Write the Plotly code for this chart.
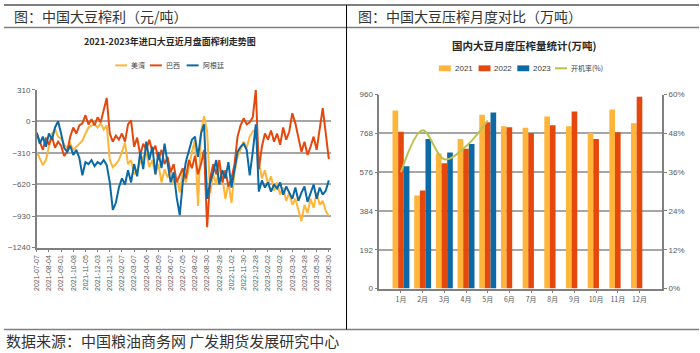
import plotly.graph_objects as go

# ---------------- Left chart data (元/吨) ----------------
tick_dates = ["2021-07-07", "2021-08-04", "2021-09-01", "2021-10-08", "2021-11-05",
              "2021-12-03", "2021-12-31", "2022-02-07", "2022-03-07", "2022-04-06",
              "2022-05-09", "2022-06-07", "2022-07-05", "2022-08-02", "2022-08-30",
              "2022-09-28", "2022-11-02", "2022-11-30", "2022-12-28", "2023-02-02",
              "2023-03-02", "2023-03-30", "2023-04-28", "2023-05-30", "2023-06-30"]

us_gulf = [-300, -360, -430, -380, -260, -120, -80, -150, -170, -230, -260, -220, -280, -250, -230, -190,
           -120, -60, -40, -30, -60, -20, -80, -40, -380, -450, -420, -380, -300, -210, -420, -380,
           -520, -480, -400, -350, -300, -450, -380, -520, -420, -600, -470, -550, -480, -620, -560, -700,
           -500, -600, -430, -300, -180, -830, -100, 50, -100, -700, -520, -620, -450, -550, -760, -600,
           -800, -500, -350, -280, -200, -260, -150, -100, -80, -400, -560, -480, -620, -540, -680, -600,
           -720, -650, -780, -700, -820, -760, -880, -980, -820, -900, -760, -850, -700, -820, -780, -880,
           -930]

brazil = [-120, -200, -280, -160, -230, -150, -260, -200, -240, -340, -300, -150, -60, -120, -40, -20,
          60, -30, 20, -40, 40, -10, 120, 230, -120, -200, -140, -180, -120, -200, -30, 10,
          -250, -160, -330, -220, -280, -180, -300, -240, -380, -280, -420, -350, -500, -420, -600, -520,
          -460, -560, -380, -460, -340, -520, -420, -280, -1040, -560, -420, -520, -380, -600, -480, -640,
          -560, -420, -150, -40, 30, -30, -10, 40, 310, -470, -250, -120, -180, -90, -200, -120,
          -230, -60, -180, -100, 80, -20, -180, -300, -200, -330, -250, -150, -280, -60, 130, -120,
          -370]

argentina = [-110, -220, -150, -250, -120, -180, -60, 0, -120, -260, -300, -240, -330, -280, -360, -530,
             -400, -420, -380, -440, -400, -420, -380, -430, -600, -870, -800, -650, -560, -620, -480, -600,
             -420, -540, -300, -470, -200, -380, -250, -520, -300, -460, -220, -400, -600, -500, -750, -920,
             -600, -400, -280, -180, -150, -350, -120, -30, -760, -600, -500, -380, -620, -480, -560, -400,
             -650, -470, -300, -250, -220, -280, -530, -300, -30, -690, -580, -650, -600, -690, -620, -660,
             -600, -720, -640, -700, -760, -650, -780, -700, -640, -790, -700, -620, -760, -650, -720, -680,
             -580]

# ---------------- Right chart data (万吨, %) ----------------
months = ["1月", "2月", "3月", "4月", "5月", "6月", "7月", "8月", "9月", "10月", "11月", "12月"]
crush_2021 = [881, 461, 668, 740, 861, 803, 796, 852, 803, 770, 886, 818]
crush_2022 = [776, 485, 620, 692, 823, 799, 770, 808, 876, 740, 774, 949]
crush_2023 = [605, 740, 673, 716, 871, None, None, None, None, None, None, None]
run_rate = [36, 49, 40, 44, 52, None, None, None, None, None, None, None]
left_ticks = [-1240, -930, -620, -310, 0, 310]
crush_ticks = [0, 192, 384, 576, 768, 960]
rate_ticks = [0, 12, 24, 36, 48, 60]
rate_labels = ["0%", "12%", "24%", "36%", "48%", "60%"]

C_ORANGE = "#FFB43A"
C_RED = "#E4480C"
C_BLUE = "#0C69A4"
C_OLIVE = "#B9C24E"
W, H = 700, 353


def px(x):
    return x / W


def py(y):
    return 1 - y / H


fig = go.Figure()

idx = list(range(len(us_gulf)))
for name, vals, col in [("美湾", us_gulf, C_ORANGE), ("巴西", brazil, C_RED), ("阿根廷", argentina, C_BLUE)]:
    fig.add_trace(go.Scatter(x=idx, y=vals, mode="lines", name=name,
                             line=dict(color=col, width=2), xaxis="x", yaxis="y",
                             showlegend=False, hoverinfo="skip"))

for name, vals, col in [("2021", crush_2021, C_ORANGE), ("2022", crush_2022, C_RED), ("2023", crush_2023, C_BLUE)]:
    fig.add_trace(go.Bar(x=months, y=vals, name=name, marker=dict(color=col, line=dict(width=0)),
                         xaxis="x2", yaxis="y2", showlegend=False))

fig.add_trace(go.Scatter(x=months, y=run_rate, mode="lines", name="开机率(%)",
                         line=dict(color=C_OLIVE, width=2, shape="spline", smoothing=1.0),
                         xaxis="x2", yaxis="y3", showlegend=False, connectgaps=False))

tickfont = dict(family="Liberation Sans, Arial", size=8, color="#595959")

fig.update_layout(
    width=W, height=H,
    margin=dict(l=0, r=0, t=0, b=0),
    paper_bgcolor="white", plot_bgcolor="rgba(0,0,0,0)",
    barmode="group", bargap=0.22, bargroupgap=0,
    xaxis=dict(domain=[px(33), px(329)], anchor="y", range=[0, 96.6],
               tickmode="array", tickvals=idx[::4], ticktext=tick_dates, tickangle=-90,
               tickfont=dict(family="Liberation Sans, Arial", size=7, color="#595959"),
               ticks="outside", ticklen=3, tickcolor="#808080",
               showline=True, linecolor="#808080", linewidth=1.5, showgrid=False, zeroline=False),
    yaxis=dict(domain=[py(250), py(88)], anchor="x", range=[-1240, 310],
               tickmode="array", tickvals=left_ticks,
               tickfont=tickfont, ticks="outside", ticklen=3, tickcolor="#808080",
               showline=True, linecolor="#808080", linewidth=1.5,
               showgrid=True, gridcolor="#A6A6A6", gridwidth=2, zeroline=False),
    xaxis2=dict(domain=[px(378), px(663)], anchor="y2", type="category", range=[-1.0, 12.05],
                tickfont=dict(family="Noto Sans CJK SC", size=7, color="#595959"),
                ticks="outside", ticklen=3, tickcolor="#808080",
                showline=True, linecolor="#808080", linewidth=1.5, showgrid=False, zeroline=False),
    yaxis2=dict(domain=[py(292), py(93)], anchor="x2", range=[0, 960],
                tickmode="array", tickvals=crush_ticks,
                tickfont=tickfont, ticks="outside", ticklen=3, tickcolor="#808080",
                showline=True, linecolor="#808080", linewidth=1.5,
                showgrid=True, gridcolor="#A6A6A6", gridwidth=1.5, zeroline=False),
    yaxis3=dict(overlaying="y2", side="right", anchor="x2", range=[0, 60],
                tickmode="array", tickvals=rate_ticks, ticktext=rate_labels,
                tickfont=tickfont, ticks="outside", ticklen=3, tickcolor="#808080",
                showline=True, linecolor="#808080", linewidth=1.5, showgrid=False, zeroline=False),
)

shapes = []
annots = []
# frame lines
shapes.append(dict(type="line", xref="paper", yref="paper", x0=0, x1=1, y0=py(1), y1=py(1),
                   line=dict(color="#7F7F7F", width=2)))
shapes.append(dict(type="line", xref="paper", yref="paper", x0=0, x1=1, y0=py(24), y1=py(24),
                   line=dict(color="#7F7F7F", width=1.5)))
shapes.append(dict(type="line", xref="paper", yref="paper", x0=0, x1=1, y0=py(334), y1=py(334),
                   line=dict(color="#7F7F7F", width=1.5)))
shapes.append(dict(type="line", xref="paper", yref="paper", x0=px(345), x1=px(345), y0=py(1), y1=py(334),
                   line=dict(color="#000000", width=1)))

hdr_font = dict(family="Noto Sans CJK SC", size=14, color="#333333")
annots.append(dict(text="图：中国大豆榨利（元/吨）", x=px(8), y=py(12), xref="paper", yref="paper",
                   xanchor="left", yanchor="middle", showarrow=False, font=hdr_font))
annots.append(dict(text="图：中国大豆压榨月度对比（万吨）", x=px(355), y=py(12), xref="paper", yref="paper",
                   xanchor="left", yanchor="middle", showarrow=False, font=hdr_font))
annots.append(dict(text="数据来源：中国粮油商务网 广发期货发展研究中心", x=px(0), y=py(345), xref="paper",
                   yref="paper", xanchor="left", yanchor="middle", showarrow=False,
                   font=dict(family="Noto Sans CJK SC", size=15, color="#333333")))

annots.append(dict(text="<b>2021-2023年进口大豆近月盘面榨利走势图</b>", x=px(167), y=py(38), xref="paper",
                   yref="paper", xanchor="center", yanchor="middle", showarrow=False,
                   font=dict(family="Noto Sans CJK SC", size=9, color="#262626")))
annots.append(dict(text="<b>国内大豆月度压榨量统计(万吨)</b>", x=px(524), y=py(43), xref="paper",
                   yref="paper", xanchor="center", yanchor="middle", showarrow=False,
                   font=dict(family="Noto Sans CJK SC", size=10.5, color="#262626")))

leg_font = dict(family="Noto Sans CJK SC", size=7, color="#404040")
# left legend
for x0, name, col in [(112, "美湾", C_ORANGE), (147, "巴西", C_RED), (184, "阿根廷", C_BLUE)]:
    shapes.append(dict(type="line", xref="paper", yref="paper", x0=px(x0), x1=px(x0 + 12),
                       y0=py(63), y1=py(63), line=dict(color=col, width=2)))
    annots.append(dict(text=name, x=px(x0 + 14), y=py(63), xref="paper", yref="paper",
                       xanchor="left", yanchor="middle", showarrow=False, font=leg_font))
# right legend
for x0, name, col in [(438, "2021", C_ORANGE), (478, "2022", C_RED), (517, "2023", C_BLUE)]:
    shapes.append(dict(type="rect", xref="paper", yref="paper", x0=px(x0), x1=px(x0 + 12),
                       y0=py(69), y1=py(63), fillcolor=col, line=dict(width=0)))
    annots.append(dict(text=name, x=px(x0 + 14), y=py(66), xref="paper", yref="paper",
                       xanchor="left", yanchor="middle", showarrow=False,
                       font=dict(family="Liberation Sans, Arial", size=8, color="#404040")))
shapes.append(dict(type="line", xref="paper", yref="paper", x0=px(555), x1=px(567),
                   y0=py(66), y1=py(66), line=dict(color=C_OLIVE, width=2)))
annots.append(dict(text="开机率(%)", x=px(569), y=py(66), xref="paper", yref="paper",
                   xanchor="left", yanchor="middle", showarrow=False, font=leg_font))

fig.update_layout(shapes=shapes, annotations=annots)
fig.write_html("out.html")
